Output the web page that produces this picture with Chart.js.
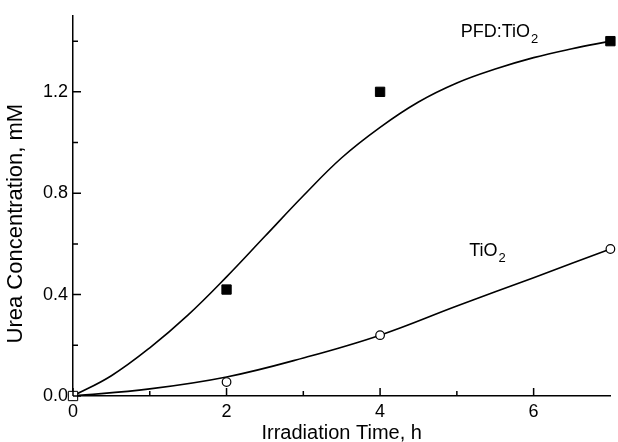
<!DOCTYPE html>
<html>
<head>
<meta charset="utf-8">
<script src="https://cdn.jsdelivr.net/npm/chart.js@4.4.1/dist/chart.umd.min.js"></script>
<style>
    html, body { margin: 0; padding: 0; background: #fff; }
    #wrap { width: 618px; height: 442px; }
</style>
</head>
<body>
<div id="wrap"><canvas id="canvasSingle"></canvas></div>
<script>
// measured points
const timeH = [0, 2, 4, 7];
const pfdTio2Urea = [0, 0.42, 1.2, 1.4];
const tio2Urea = [0, 0.055, 0.24, 0.58];

// fitted curves
const pfdFitTime = [0, 0.5, 1, 1.5, 2, 2.5, 3, 3.5, 4, 4.5, 5, 5.5, 6, 6.5, 7];
const pfdTio2Fit = [0, 0.08, 0.19, 0.32, 0.47, 0.63, 0.79, 0.94, 1.06, 1.16, 1.235, 1.29, 1.335, 1.37, 1.4];
const tio2FitTime = [0, 1, 2, 3, 4, 5, 6, 7];
const tio2Fit = [0, 0.028, 0.075, 0.15, 0.24, 0.355, 0.467, 0.58];

// ticks
const xMajor = [0, 2, 4, 6];
const xMinor = [1, 3, 5];
const yMajor = [0, 0.4, 0.8, 1.2];
const yMinor = [0.2, 0.6, 1.0, 1.4];

const FONT = 'Liberation Sans, Arial, Helvetica, sans-serif';
const yTitle = 'Urea Concentration, mM';

function toXY(xs, ys) {
    return xs.map((x, i) => ({ x: x, y: ys[i] }));
}

// ticks pointing into the plot, like the original
const insideTicks = {
    id: 'insideTicks',
    afterDatasetsDraw(chart) {
        const ctx = chart.ctx;
        const x = chart.scales.x;
        const y = chart.scales.y;
        const area = chart.chartArea;
        ctx.save();
        ctx.strokeStyle = '#000';
        ctx.lineWidth = 1.5;
        ctx.beginPath();
        xMajor.forEach(v => { const px = x.getPixelForValue(v); ctx.moveTo(px, area.bottom); ctx.lineTo(px, area.bottom - 8); });
        xMinor.forEach(v => { const px = x.getPixelForValue(v); ctx.moveTo(px, area.bottom); ctx.lineTo(px, area.bottom - 5); });
        yMajor.forEach(v => { const py = y.getPixelForValue(v); ctx.moveTo(area.left, py); ctx.lineTo(area.left + 8, py); });
        yMinor.forEach(v => { const py = y.getPixelForValue(v); ctx.moveTo(area.left, py); ctx.lineTo(area.left + 5, py); });
        ctx.stroke();
        ctx.restore();
    }
};

// curve names with subscript + the y title (bigger and a bit lower than the axis middle)
const seriesLabels = {
    id: 'seriesLabels',
    afterDraw(chart) {
        const ctx = chart.ctx;
        const x = chart.scales.x;
        const y = chart.scales.y;
        const items = [
            { main: 'PFD:TiO', sub: '2', at: [5.05, 1.415] },
            { main: 'TiO', sub: '2', at: [5.16, 0.553] }
        ];
        ctx.save();
        ctx.fillStyle = '#000';
        ctx.textBaseline = 'alphabetic';
        ctx.textAlign = 'left';
        items.forEach(it => {
            const px = x.getPixelForValue(it.at[0]);
            const py = y.getPixelForValue(it.at[1]);
            ctx.font = '18px ' + FONT;
            ctx.fillText(it.main, px, py);
            const w = ctx.measureText(it.main).width;
            ctx.font = '13px ' + FONT;
            ctx.fillText(it.sub, px + w + 1, py + 6);
        });

        ctx.translate(16, y.getPixelForValue(0.68));
        ctx.rotate(-Math.PI / 2);
        ctx.textAlign = 'center';
        ctx.textBaseline = 'middle';
        ctx.font = '22px ' + FONT;
        ctx.fillText(yTitle, 0, 0);
        ctx.restore();
    }
};

const config = {
    type: 'scatter',
    data: {
        datasets: [
            {
                data: toXY(timeH, pfdTio2Urea),
                pointStyle: 'rect',
                pointRadius: 6.6,
                pointBackgroundColor: ['#fff', '#000', '#000', '#000'],
                pointBorderColor: '#000',
                pointBorderWidth: 1,
                showLine: false,
                clip: false,
                order: 1
            },
            {
                data: toXY(timeH, tio2Urea),
                pointStyle: 'circle',
                pointRadius: 4.3,
                pointBackgroundColor: '#fff',
                pointBorderColor: '#000',
                pointBorderWidth: 1.2,
                showLine: false,
                clip: false,
                order: 2
            },
            {
                data: toXY(pfdFitTime, pfdTio2Fit),
                showLine: true,
                pointRadius: 0,
                borderColor: '#000',
                borderWidth: 1.6,
                tension: 0.4,
                order: 3
            },
            {
                data: toXY(tio2FitTime, tio2Fit),
                showLine: true,
                pointRadius: 0,
                borderColor: '#000',
                borderWidth: 1.6,
                tension: 0.4,
                order: 4
            }
        ]
    },
    options: {
        responsive: false,
        animation: false,
        layout: { padding: { top: 13, right: 6, left: 0, bottom: 0 } },
        plugins: {
            legend: { display: false },
            tooltip: { enabled: false }
        },
        scales: {
            x: {
                type: 'linear',
                min: 0,
                max: 7,
                afterBuildTicks: scale => { scale.ticks = xMajor.map(v => ({ value: v })); },
                afterFit: scale => { scale.height = 46; },
                grid: { display: false, drawTicks: false },
                border: { display: true, color: '#000', width: 1.5 },
                ticks: {
                    color: '#000',
                    padding: 5,
                    maxRotation: 0,
                    font: { family: FONT, size: 18 },
                    callback: v => String(v)
                },
                title: {
                    display: true,
                    text: 'Irradiation Time, h',
                    color: '#000',
                    font: { family: FONT, size: 20, lineHeight: 0.9 },
                    padding: { top: 0, bottom: 0 }
                }
            },
            y: {
                type: 'linear',
                min: 0,
                max: 1.5,
                afterBuildTicks: scale => { scale.ticks = yMajor.map(v => ({ value: v })); },
                afterFit: scale => { scale.width = 73; },
                grid: { display: false, drawTicks: false },
                border: { display: true, color: '#000', width: 1.5 },
                ticks: {
                    color: '#000',
                    padding: 5,
                    font: { family: FONT, size: 18 },
                    callback: v => Number(v).toFixed(1)
                },
                title: { display: false }
            }
        }
    },
    plugins: [insideTicks, seriesLabels]
};

document.addEventListener('DOMContentLoaded', function () {
    const canvas = document.getElementById('canvasSingle');
    canvas.width = 618;
    canvas.height = 442;
    new Chart(canvas, config);
});
</script>
</body>
</html>
